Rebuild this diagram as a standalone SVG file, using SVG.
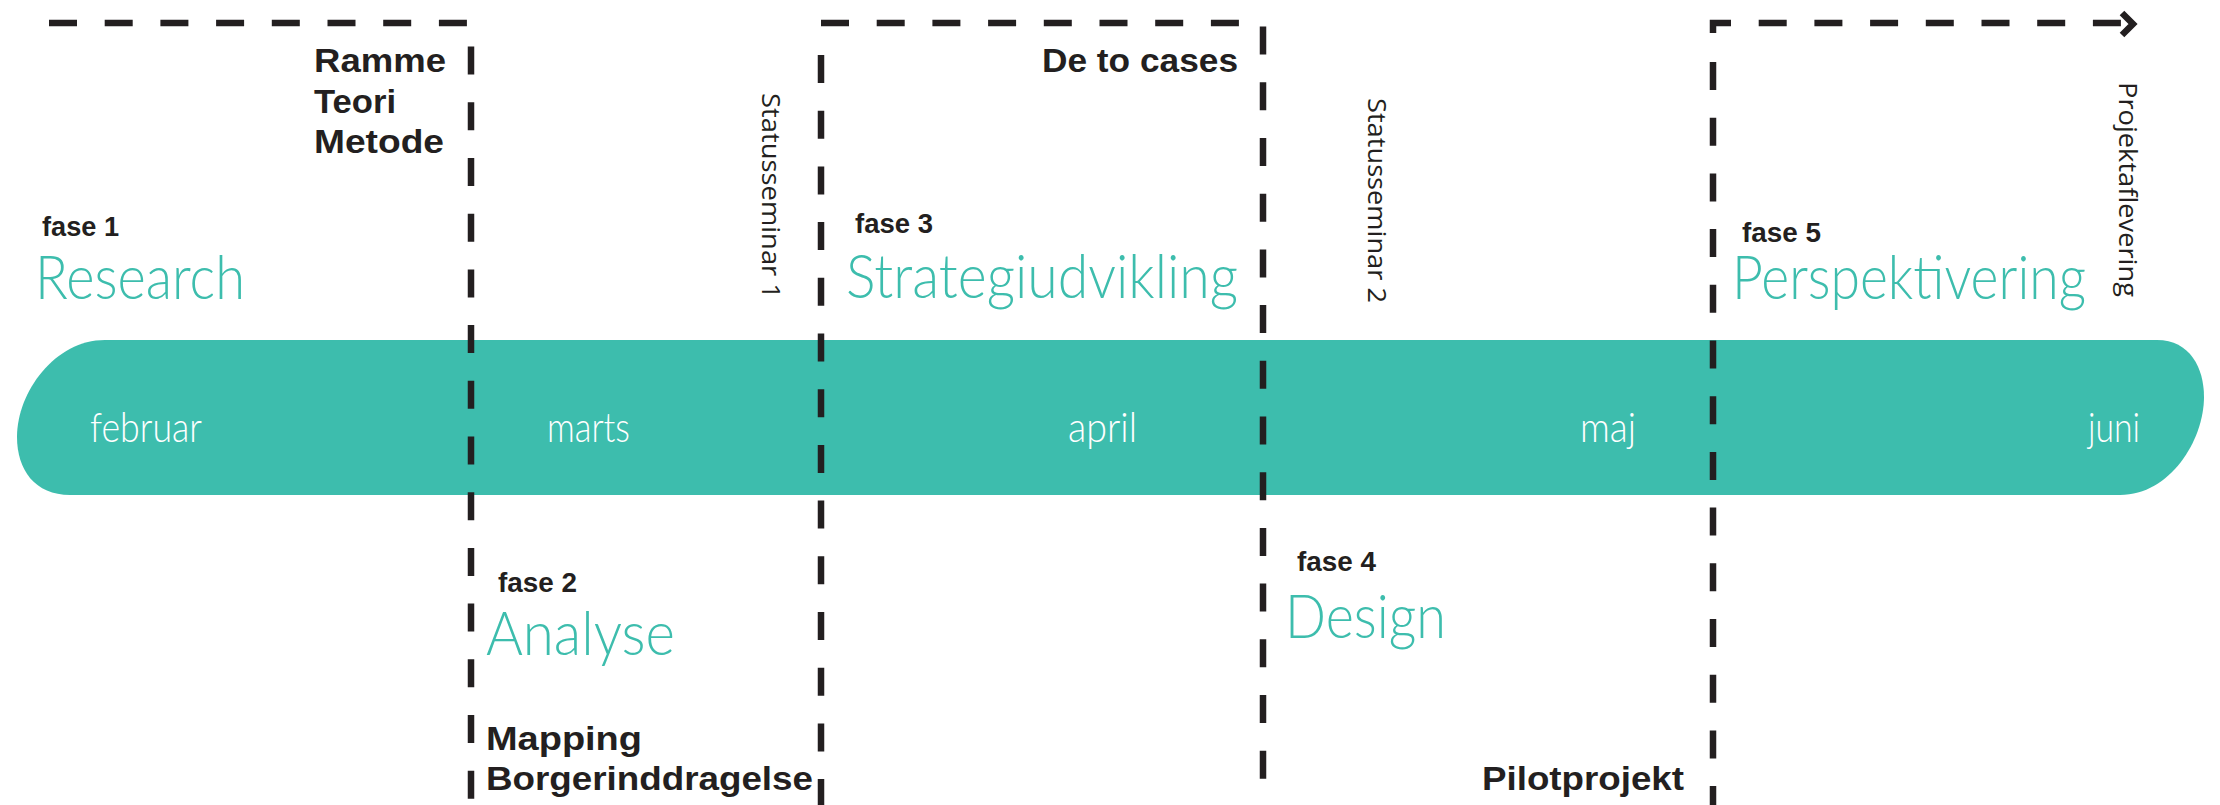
<svg xmlns="http://www.w3.org/2000/svg" width="2220" height="805" viewBox="0 0 2220 805">
<style>
.dash{fill:none;stroke:#231f20;stroke-width:6.5;stroke-dasharray:28 27.7}
.bold{font-family:"Liberation Sans",Arial,sans-serif;font-weight:bold;fill:#231f20;font-size:34px}
.fase{font-family:"Liberation Sans",Arial,sans-serif;font-weight:bold;fill:#231f20;font-size:28px}
.phase{font-family:Lato,"Noto Sans",sans-serif;font-weight:300;fill:#3dbdad;font-size:61px}
.month{font-family:Lato,"Noto Sans",sans-serif;font-weight:300;fill:#ffffff;font-size:42px}
.rot{font-family:"Open Sans","Liberation Sans",sans-serif;fill:#231f20;font-size:26px}
</style>
<rect width="2220" height="805" fill="#ffffff"/>
<g id="timeline-bar">
<path d="M105,340 H2157 C2190,340 2204,368 2204,397 C2204,440 2170,495 2120,495 H70 C35,495 17,470 17,437 C17,392 55,340 105,340 Z" fill="#3dbdad"/>
<text class="month" x="90" y="442" textLength="112" lengthAdjust="spacingAndGlyphs">februar</text>
<text class="month" x="547" y="442" textLength="83" lengthAdjust="spacingAndGlyphs">marts</text>
<text class="month" x="1068" y="442" textLength="69" lengthAdjust="spacingAndGlyphs">april</text>
<text class="month" x="1580" y="442" textLength="56" lengthAdjust="spacingAndGlyphs">maj</text>
<text class="month" x="2088" y="442" textLength="52" lengthAdjust="spacingAndGlyphs">juni</text>
</g>
<g id="connectors">
<path class="dash" d="M49,23 H471 V805"/>
<path class="dash" d="M821,23 H1263 V805"/>
<path class="dash" d="M821,55 V805"/>
<path class="dash" d="M1713,33 V23 H2123"/>
<path class="dash" d="M1713,62 V805"/>
<polyline points="2122,13 2133,24 2122,35" fill="none" stroke="#231f20" stroke-width="6.5"/>
</g>
<g id="fase1">
<text class="fase" x="42" y="236" textLength="77" lengthAdjust="spacingAndGlyphs">fase 1</text>
<text class="phase" x="35" y="299" textLength="210" lengthAdjust="spacingAndGlyphs">Research</text>
<text class="bold" x="314" y="72" textLength="132" lengthAdjust="spacingAndGlyphs">Ramme</text>
<text class="bold" x="314" y="113" textLength="82" lengthAdjust="spacingAndGlyphs">Teori</text>
<text class="bold" x="314" y="153" textLength="130" lengthAdjust="spacingAndGlyphs">Metode</text>
</g>
<g id="fase2">
<text class="fase" x="498" y="592" textLength="79" lengthAdjust="spacingAndGlyphs">fase 2</text>
<text class="phase" x="486" y="655" textLength="189" lengthAdjust="spacingAndGlyphs">Analyse</text>
<text class="bold" x="486" y="750" textLength="156" lengthAdjust="spacingAndGlyphs">Mapping</text>
<text class="bold" x="486" y="790" textLength="327" lengthAdjust="spacingAndGlyphs">Borgerinddragelse</text>
</g>
<g id="statusseminar1">
<text class="rot" transform="translate(762,93) rotate(90)" textLength="206" lengthAdjust="spacingAndGlyphs">Statusseminar 1</text>
</g>
<g id="fase3">
<text class="fase" x="855" y="233" textLength="78" lengthAdjust="spacingAndGlyphs">fase 3</text>
<text class="phase" x="846" y="298" textLength="392" lengthAdjust="spacingAndGlyphs">Strategiudvikling</text>
<text class="bold" x="1042" y="72" textLength="196" lengthAdjust="spacingAndGlyphs">De to cases</text>
</g>
<g id="statusseminar2">
<text class="rot" transform="translate(1368,98) rotate(90)" textLength="205" lengthAdjust="spacingAndGlyphs">Statusseminar 2</text>
</g>
<g id="fase4">
<text class="fase" x="1297" y="571" textLength="79" lengthAdjust="spacingAndGlyphs">fase 4</text>
<text class="phase" x="1285" y="638" textLength="161" lengthAdjust="spacingAndGlyphs">Design</text>
<text class="bold" x="1482" y="790" textLength="202" lengthAdjust="spacingAndGlyphs">Pilotprojekt</text>
</g>
<g id="fase5">
<text class="fase" x="1742" y="242" textLength="79" lengthAdjust="spacingAndGlyphs">fase 5</text>
<text class="phase" x="1732" y="299" textLength="354" lengthAdjust="spacingAndGlyphs">Perspektivering</text>
</g>
<g id="projektaflevering">
<text class="rot" transform="translate(2119,82) rotate(90)" textLength="215" lengthAdjust="spacingAndGlyphs">Projektaflevering</text>
</g>
</svg>
